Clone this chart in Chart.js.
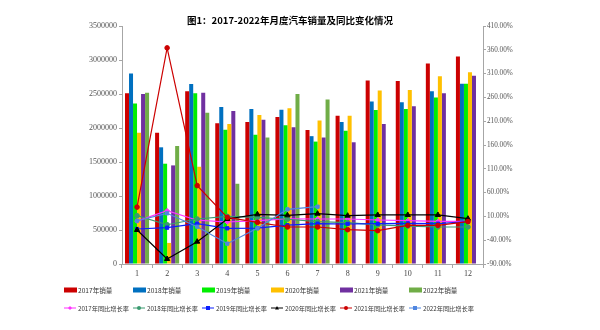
<!DOCTYPE html>
<html>
<head>
<meta charset="utf-8">
<script src="https://cdn.jsdelivr.net/npm/chart.js@4.4.1/dist/chart.umd.min.js"></script>
<style>
html,body{margin:0;padding:0;background:#fff}
#wrap{width:600px;height:330px}
</style>
</head>
<body>
<div id="wrap"><canvas id="salesChart" width="600" height="330"></canvas></div>
<script>
// 月份
const months=["1","2","3","4","5","6","7","8","9","10","11","12"];

// 月度销量（辆）
const sales2017=[2510000,1930000,2540000,2070000,2090000,2160000,1970000,2180000,2700000,2690000,2950000,3050000];
const sales2018=[2800000,1716000,2647000,2310000,2280000,2270000,1880000,2090000,2390000,2380000,2540000,2650000];
const sales2019=[2360000,1475000,2510000,1975000,1900000,2040000,1800000,1960000,2265000,2280000,2450000,2650000];
const sales2020=[1930000,310000,1430000,2060000,2190000,2290000,2110000,2180000,2550000,2560000,2760000,2820000];
const sales2021=[2500000,1450000,2520000,2250000,2120000,2010000,1860000,1790000,2060000,2320000,2510000,2770000];
const sales2022=[2520000,1735000,2225000,1180000,1860000,2500000,2420000,null,null,null,null,null];

// 同比增长率（%）
const growth2017=[0.2,22,2,-1.8,1,5,4.5,4.5,2.4,1,-0.4,-0.5];
const growth2018=[11.5,-7.5,4.5,10,8,4,-1,-3,-8,-10.5,-12.3,-12.3];
const growth2019=[-16.5,-13.7,-5.3,-15,-14.5,-8.5,-5.3,-6,-5.3,-4.6,-5.3,-1.1];
const growth2020=[-18.6,-79.5,-43.1,4.5,14.3,12.2,15.7,11.5,13,13,13,5.2];
const growth2021=[29.5,364,74.6,8,-2.5,-12.3,-12.3,-17.9,-20,-8.8,-8.8,-0.8];
const growth2022=[0.9,16.5,-11.6,-47.3,-15,24.8,30.4,null,null,null,null,null];

const barColors=["#CC0000","#0070C0","#00EE00","#FFC000","#7030A0","#70AD47"];
const lineColors=["#FF33FF","#3A9A70","#0A1FFF","#000000","#CC0000","#4F86E0"];
const lineMarkers=["rectRot","circle","rect","triangle","circle","rect"];
const years=["2017","2018","2019","2020","2021","2022"];
const salesData=[sales2017,sales2018,sales2019,sales2020,sales2021,sales2022];
const growthData=[growth2017,growth2018,growth2019,growth2020,growth2021,growth2022];

const datasets=[];
years.forEach((y,i)=>{
  datasets.push({type:'bar',label:y+'年销量',data:salesData[i],backgroundColor:barColors[i],
    yAxisID:'y',order:10,categoryPercentage:0.8,barPercentage:1.0});
});
years.forEach((y,i)=>{
  datasets.push({type:'line',label:y+'年同比增长率',data:growthData[i],borderColor:lineColors[i],
    backgroundColor:lineColors[i],borderWidth:1.2,pointStyle:lineMarkers[i],
    pointRadius:lineMarkers[i]==='triangle'?3:2.3,pointBorderWidth:1,tension:0,
    yAxisID:'y1',order:6-i,spanGaps:false});
});

// 标题和两行图例
function drawMarker(ctx,style,x,y,r){
  ctx.beginPath();
  if(style==='rect'){ctx.rect(x-r,y-r,2*r,2*r);}
  else if(style==='rectRot'){ctx.moveTo(x,y-r);ctx.lineTo(x+r,y);ctx.lineTo(x,y+r);ctx.lineTo(x-r,y);ctx.closePath();}
  else if(style==='triangle'){ctx.moveTo(x,y-r);ctx.lineTo(x+r,y+r*0.8);ctx.lineTo(x-r,y+r*0.8);ctx.closePath();}
  else{ctx.arc(x,y,r,0,Math.PI*2);}
  ctx.fill();
}
const titleLegend={
  id:'titleLegend',
  afterDraw(chart){
    const ctx=chart.ctx; ctx.save();
    ctx.fillStyle='#000'; ctx.font='bold 9.5px "Noto Sans CJK SC"';
    ctx.textAlign='center'; ctx.textBaseline='middle';
    ctx.fillText('图1：2017-2022年月度汽车销量及同比变化情况',290,20);
    ctx.textAlign='left';
    chart.data.datasets.forEach((ds,i)=>{
      const col=i%6,row=Math.floor(i/6);
      const x=64+col*69, y=row===0?290:308;
      if(ds.type==='bar'){
        ctx.fillStyle=ds.backgroundColor; ctx.fillRect(x,y-2.5,13,5);
        ctx.font='6.6px "Noto Sans CJK SC"';
      }else{
        ctx.strokeStyle=ds.borderColor; ctx.lineWidth=1;
        ctx.beginPath(); ctx.moveTo(x,y); ctx.lineTo(x+12,y); ctx.stroke();
        ctx.fillStyle=ds.borderColor; drawMarker(ctx,ds.pointStyle,x+6,y,2);
        ctx.font='6.2px "Noto Sans CJK SC"';
      }
      ctx.fillStyle='#333'; ctx.fillText(ds.label,x+14,y+0.5);
    });
    ctx.restore();
  }
};

const tickFont={family:'"Liberation Serif"',size:8};
new Chart(document.getElementById('salesChart'),{
  data:{labels:months,datasets},
  plugins:[titleLegend],
  options:{
    responsive:false,animation:false,
    layout:{padding:{top:26,bottom:50,left:0,right:0}},
    plugins:{legend:{display:false},title:{display:false},tooltip:{enabled:false}},
    scales:{
      x:{offset:true,
        grid:{display:true,drawOnChartArea:false,offset:true,tickLength:4,color:'#A6A6A6'},
        border:{color:'#A6A6A6'},
        ticks:{font:tickFont,color:'#444',padding:1},
        afterFit:s=>{s.height=16;}},
      y:{position:'left',min:0,max:3500000,
        grid:{display:true,drawOnChartArea:false,tickLength:3,color:'#A6A6A6'},
        border:{color:'#A6A6A6'},
        ticks:{stepSize:500000,font:tickFont,color:'#555',padding:2,callback:v=>String(v)},
        afterFit:s=>{s.width=122;}},
      y1:{position:'right',min:-90,max:410,
        grid:{display:true,drawOnChartArea:false,tickLength:3,color:'#A6A6A6'},
        border:{color:'#A6A6A6'},
        ticks:{stepSize:50,font:{family:'"Liberation Serif"',size:7.2},color:'#555',padding:1,
          callback:v=>v.toFixed(2)+'%'},
        afterFit:s=>{s.width=117;}}
    }
  }
});
</script>
</body>
</html>
